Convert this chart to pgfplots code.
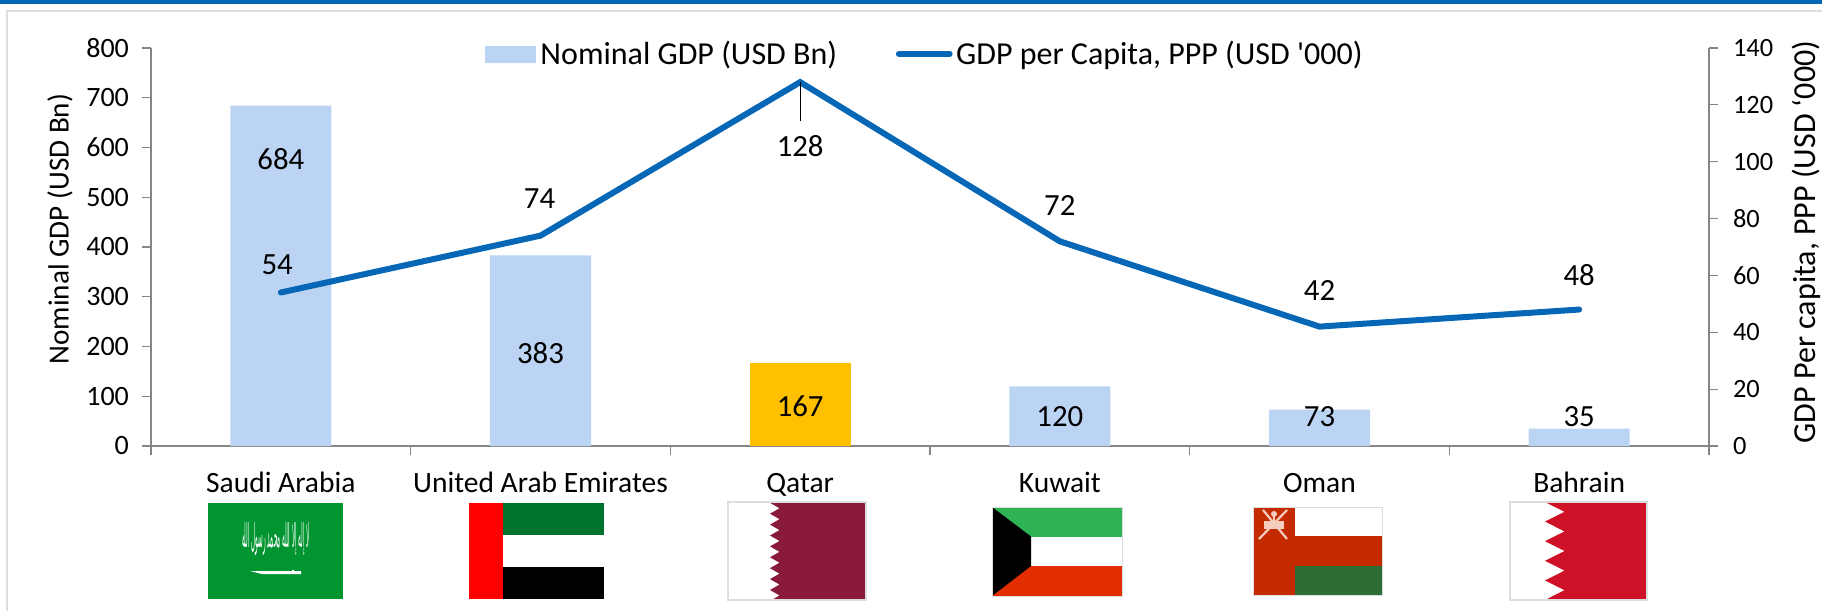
\documentclass[border=0pt]{standalone}
\usepackage{pgfplots}
\pgfplotsset{compat=1.18}
\usepackage{pgfplotstable}
\usepackage{fontspec}
\setmainfont{Carlito}
\newfontfamily\arabicfont[Script=Arabic]{DejaVu Sans}
\TeXXeTstate=1
\definecolor{barblue}{HTML}{BBD4F3}
\definecolor{bargold}{HTML}{FFC000}
\definecolor{lineblue}{HTML}{0567B5}
\definecolor{axisgray}{HTML}{868686}
\definecolor{framegray}{HTML}{DDDDDD}
\newcommand{\fs}[1]{\fontsize{#1}{#1}\selectfont}
\pgfplotstableread{
x y dy
0 684 -26.6
1 383 -48.7
3 120 -15.4
4 73 -3.6
5 35 5.8
}\bluebars
\pgfplotstableread{
x y dy
2 167 -21.5
}\goldbars
\pgfplotstableread{
x y dx dy
0 54 -1.8 13.75
1 74 -0.5 18.3
2 128 0 -32
3 72 0 18
4 42 0 17.8
5 48 0 17
}\linedata
\begin{document}
\begin{tikzpicture}
\useasboundingbox (0,0) rectangle (911pt,-305.5pt);
% page furniture
\begin{scope}[x=0.5pt,y=-0.5pt]
\fill[lineblue] (0,0) rectangle (1822,3.5);
\draw[framegray,line width=1pt] (1822,10.5) -- (7,10.5) -- (7,611);
% Saudi Arabia
\fill[fill={rgb,255:red,0;green,149;blue,48}] (208,503) rectangle (343,599);
\node[white,inner sep=0pt] at (276,539.5) {\resizebox{34pt}{12.5pt}{\arabicfont\beginR لا إله إلا الله محمد رسول الله\endR}};
\fill[white] (250,571) -- (292,571) -- (292,570) -- (294,570) -- (294,571) -- (301,571) -- (301,574) -- (262,574) -- cycle;
% UAE
\fill[fill={rgb,255:red,0;green,115;blue,47}] (503,503) rectangle (604,535);
\fill[black] (503,567) rectangle (604,599);
\fill[red] (469,503) rectangle (503,599);
% Qatar
\begin{scope}
\clip (728,502) rectangle (866,600);
\definecolor{qm}{HTML}{8A1A3B}
\fill[qm] (779,502) rectangle (866,600);
\foreach \k in {0,...,9}{
  \pgfmathsetmacro\yy{502.8+10.9*\k}
  \fill[qm] (779.5,{\yy-5.45}) -- (770,\yy) -- (779.5,{\yy+5.45}) -- cycle;
}
\end{scope}
\draw[framegray,line width=1pt] (728,502) rectangle (866,600);
% Kuwait
\fill[fill={rgb,255:red,46;green,179;blue,85}] (992,507) rectangle (1122,536.5);
\fill[fill={rgb,255:red,226;green,46;blue,0}] (992,566) rectangle (1122,596);
\fill[black] (992,507) -- (1031,536.5) -- (1031,566) -- (992,596) -- cycle;
\draw[framegray,line width=0.5pt] (992,507) rectangle (1122,596);
% Oman
\definecolor{omr}{HTML}{C42B00}
\fill[omr] (1253,507) rectangle (1382,595);
\fill[white] (1295,507) rectangle (1382,536);
\fill[fill={rgb,255:red,44;green,110;blue,54}] (1295,566) rectangle (1382,595);
\draw[framegray,line width=0.5pt] (1253,507) rectangle (1382,595);
\begin{scope}[draw={rgb,255:red,245;green,205;blue,190},fill={rgb,255:red,245;green,205;blue,190},line width=1.1pt]
\draw (1259,539) -- (1287,510);
\draw (1287,539) -- (1263,510);
\fill (1264,521) rectangle (1284,529);
\fill (1274,514) circle (3);
\draw (1274,514) -- (1274,521);
\end{scope}
% Bahrain
\begin{scope}
\clip (1510,502) rectangle (1647,600);
\definecolor{bh}{HTML}{CE1126}
\fill[bh] (1564,502) rectangle (1647,600);
\foreach \k in {0,...,5}{
  \pgfmathsetmacro\yy{502+19.6*\k}
  \fill[bh] (1564.5,{\yy-9.8}) -- (1545,\yy) -- (1564.5,{\yy+9.8}) -- cycle;
}
\end{scope}
\draw[framegray,line width=1pt] (1510,502) rectangle (1647,600);
\end{scope}
% primary axis
\begin{axis}[
  at={(75.5pt,-223pt)}, anchor=south west,
  scale only axis, width=779pt, height=199pt,
  xmin=-0.5, xmax=5.5, ymin=0, ymax=800,
  axis y line*=left, axis x line*=bottom,
  y axis line style={axisgray,line width=0.75pt},
  x axis line style={axisgray,line width=0.95pt},
  ybar, bar shift=0pt, bar width=50.5pt,
  xtick={0,1,2,3,4,5},
  xticklabels={\strut Saudi Arabia,\strut United Arab Emirates,\strut Qatar,\strut Kuwait,\strut Oman,\strut Bahrain},
  minor xtick={-0.5,0.5,1.5,2.5,3.5,4.5,5.5},
  major x tick style={draw=none},
  minor x tick style={axisgray,line width=0.6pt},
  minor tick length=4.5pt,
  ytick={0,100,...,800},
  y tick style={axisgray,line width=0.6pt},
  major tick length=4.5pt,
  tick align=outside,
  /pgf/number format/assume math mode=true,
  tick label style={font=\fs{14},black},
  x tick label style={yshift=-5pt,font=\fs{14.75}},
  y tick label style={xshift=-3pt},
  ylabel={Nominal GDP (USD Bn)},
  ylabel style={at={(rel axis cs:-0.0584,0.545)},anchor=center,font=\fs{14.6},rotate=0},
  legend columns=2,
  legend style={at={(rel axis cs:0.4971,0.985)},anchor=center,draw=none,fill=none,font=\fs{16},
    inner sep=0pt,outer sep=0pt,
    /tikz/every even column/.append style={column sep=27.8pt}},
  legend cell align=left,
  nodes near coords={\pgfmathprintnumber[fixed,precision=0,assume math mode=true]{\pgfplotspointmeta}},
  visualization depends on={\thisrow{dy} \as \dyv},
  every node near coord/.append style={anchor=center,yshift=\dyv pt,font=\fs{15.4},black},
]
\addplot[fill=barblue,draw=none,forget plot] table[x=x,y=y] {\bluebars};
\addplot[fill=bargold,draw=none,forget plot] table[x=x,y=y] {\goldbars};
\addlegendimage{legend image code/.code={\fill[barblue,overlay] (0.6pt,-4pt) rectangle (25.6pt,4pt);\path[draw=none,fill=none] (0pt,-4pt) rectangle (26pt,4pt);}}
\addlegendentry{Nominal GDP (USD Bn)}
\addlegendimage{legend image code/.code={\draw[lineblue,line width=3pt,line cap=round,overlay] (1.1pt,0pt) -- (26.5pt,0pt);\path[draw=none,fill=none] (0pt,-1pt) rectangle (27.75pt,1pt);}}
\addlegendentry{GDP per Capita, PPP (USD \textquotesingle 000)}
\end{axis}
% secondary axis
\begin{axis}[
  at={(75.5pt,-223pt)}, anchor=south west,
  scale only axis, width=779pt, height=199pt,
  xmin=-0.5, xmax=5.5, ymin=0, ymax=140,
  axis y line*=right, axis x line=none,
  y axis line style={axisgray,line width=0.75pt},
  ytick={0,20,...,140},
  y tick style={axisgray,line width=0.6pt},
  major tick length=4.5pt,
  tick align=outside,
  /pgf/number format/assume math mode=true,
  y tick label style={font=\fs{13.2},black,xshift=4pt},
  ylabel={GDP Per capita, PPP (USD ‘000)},
  ylabel style={at={(rel axis cs:1.0625,0.5126)},anchor=center,font=\fs{16},rotate=0},
  nodes near coords={\pgfmathprintnumber[fixed,precision=0,assume math mode=true]{\pgfplotspointmeta}},
  visualization depends on={\thisrow{dy} \as \dyv},
  visualization depends on={\thisrow{dx} \as \dxv},
  every node near coord/.append style={anchor=center,yshift=\dyv pt,xshift=\dxv pt,font=\fs{15.4},black},
]
\addplot[lineblue,line width=3pt,line cap=round,line join=miter,mark=none] table[x=x,y=y] {\linedata};
\draw[black,line width=0.5pt] (axis cs:2,128) -- ++(0pt,-19.5pt);
\end{axis}
\end{tikzpicture}
\end{document}
